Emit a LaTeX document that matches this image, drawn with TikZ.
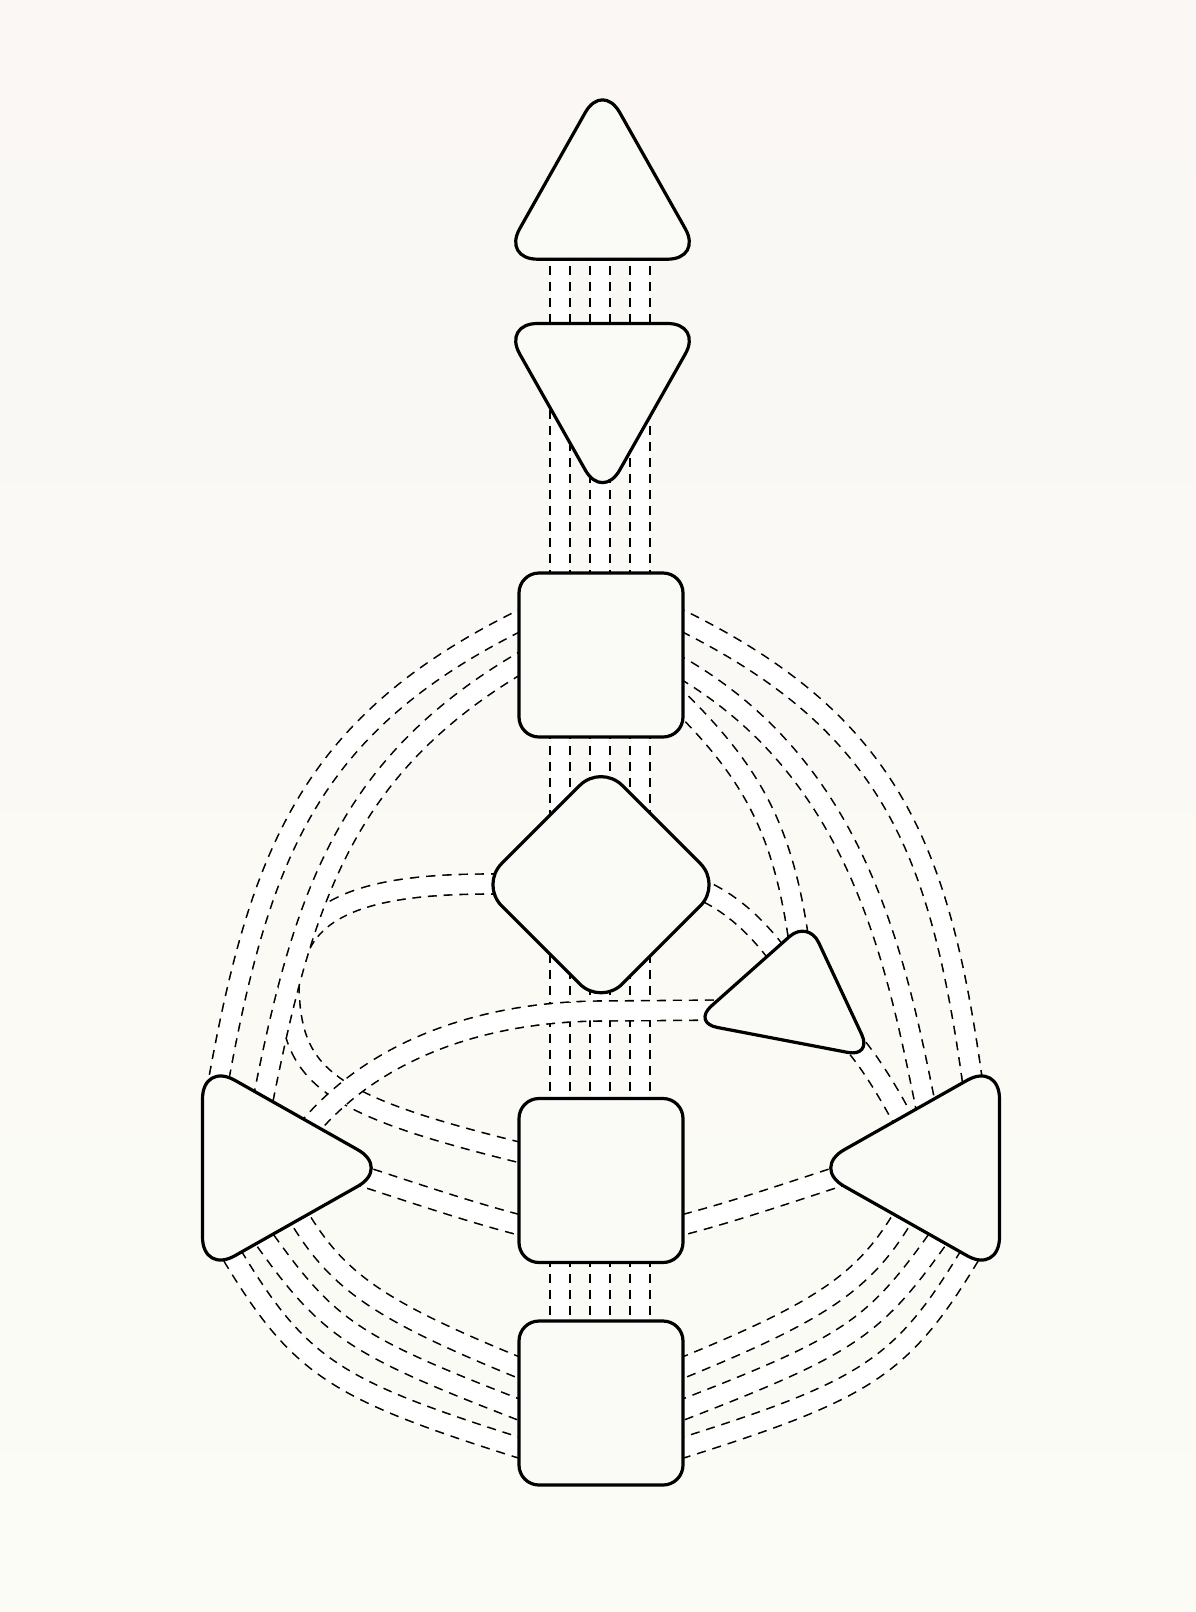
\documentclass[tikz,border=0pt]{standalone}
\definecolor{bgtop}{RGB}{250,247,244}
\definecolor{bgbot}{RGB}{251,252,246}
\definecolor{shapefill}{RGB}{250,251,247}
\begin{document}
\begin{tikzpicture}[x=1pt,y=-1pt,
  chan/.style={draw=black, line width=21.6pt, dash pattern=on 9pt off 7pt,
               postaction={draw=white, solid, line width=18.4pt}},
  centre/.style={draw=black, line width=3.2pt, fill=shapefill, line join=round}]
\useasboundingbox (0,0) rectangle (1196,1612);
\fill[top color=bgtop, bottom color=bgbot] (0,0) rectangle (1196,1612);

% ---- named ports ----
\coordinate (hdA) at (560,250);  \coordinate (rtA) at (560,1330);
\coordinate (hdB) at (600,250);  \coordinate (rtB) at (600,1330);
\coordinate (hdC) at (640,250);  \coordinate (rtC) at (640,1330);

\coordinate (thL1i) at (530.4,615.3); \coordinate (thL1) at (517,622);
\coordinate (spL1) at (219,1078);     \coordinate (spL1i) at (216.3,1092.7);
\coordinate (thL2i) at (529.9,657.3); \coordinate (thL2) at (517,665);
\coordinate (spL2) at (264,1095);     \coordinate (spL2i) at (261,1110);

\coordinate (gLi) at (500,884);  \coordinate (gL) at (491,884);
\coordinate (mgG) at (300.5,944.8);
\coordinate (mgS) at (288.9,984.8);
\coordinate (saL) at (518,1152); \coordinate (saLi) at (532,1155.5);

\coordinate (egLi) at (730,1010); \coordinate (egL) at (600,1011);
\coordinate (spE) at (316,1120);  \coordinate (spEi) at (306,1131);

\coordinate (spAi) at (355,1174); \coordinate (spA) at (365,1177);
\coordinate (saL2) at (520,1225); \coordinate (saL2i) at (532,1228);
\coordinate (spaAi) at (847,1174); \coordinate (spaA) at (837,1177);
\coordinate (saR2) at (682,1225); \coordinate (saR2i) at (670,1228);

\coordinate (spB1i) at (224.2,1242.1); \coordinate (spB1) at (232,1255);
\coordinate (roL1) at (520,1448); \coordinate (roL1i) at (534,1452.4);
\coordinate (spB2i) at (256.3,1227.8); \coordinate (spB2) at (265,1240);
\coordinate (roL2) at (520,1410); \coordinate (roL2i) at (534,1415.4);
\coordinate (spB3i) at (294,1209.3); \coordinate (spB3) at (302,1222);
\coordinate (roL3) at (520,1368); \coordinate (roL3i) at (534,1373.7);

\coordinate (sqB1i) at (977.8,1242.1); \coordinate (sqB1) at (970,1255);
\coordinate (roR1) at (682,1448); \coordinate (roR1i) at (668,1452.4);
\coordinate (sqB2i) at (945.7,1227.8); \coordinate (sqB2) at (937,1240);
\coordinate (roR2) at (682,1410); \coordinate (roR2i) at (668,1415.4);
\coordinate (sqB3i) at (908,1209.3); \coordinate (sqB3) at (900,1222);
\coordinate (roR3) at (682,1368); \coordinate (roR3i) at (668,1373.7);

\coordinate (thR1i) at (672,615.5); \coordinate (thR1) at (685,622);
\coordinate (sqT1) at (972,1078);   \coordinate (sqT1i) at (974,1093);
\coordinate (thR2i) at (672,662.5); \coordinate (thR2) at (685,670);
\coordinate (sqT2) at (925,1103);   \coordinate (sqT2i) at (928,1120);
\coordinate (thR3i) at (670,692);   \coordinate (thR3) at (690,712);
\coordinate (egT) at (798,935);     \coordinate (egTi) at (800,948);

\coordinate (gRi) at (695,886); \coordinate (gR) at (712,895);
\coordinate (egS) at (778,955); \coordinate (egSi) at (784,963);
\coordinate (egBi) at (848,1036); \coordinate (egB) at (855,1045);
\coordinate (sqE) at (902,1118);  \coordinate (sqEi) at (908,1130);

% ---- channels ----
\draw[chan] (hdA) -- (rtA);
\draw[chan] (hdB) -- (rtB);
\draw[chan] (hdC) -- (rtC);

% G -> merges into the inner throat-spleen channel; branch from it to the sacral
\draw[chan] (gLi) -- (gL) .. controls (400,884) and (325,895) .. (mgG);
\draw[chan] (mgS) .. controls (290.7,1074.8) and (324,1104) .. (saL) -- (saLi);

\draw[chan] (thL1i) -- (thL1) .. controls (311.4,724.8) and (260.4,852.6) .. (spL1) -- (spL1i);
\draw[chan] (thL2i) -- (thL2) .. controls (345.6,767.8) and (303.2,899) .. (spL2) -- (spL2i);
\draw[chan] (egLi) -- (egL) .. controls (480,1012) and (380,1050) .. (spE) -- (spEi);
\draw[chan] (spAi) -- (spA) .. controls (420,1195) and (470,1212) .. (saL2) -- (saL2i);
\draw[chan] (spaAi) -- (spaA) .. controls (782,1195) and (732,1212) .. (saR2) -- (saR2i);

\draw[chan] (spB1i) -- (spB1) .. controls (299.6,1366.8) and (334.8,1389.5) .. (roL1) -- (roL1i);
\draw[chan] (spB2i) -- (spB2) .. controls (328.8,1329.1) and (354.5,1345.9) .. (roL2) -- (roL2i);
\draw[chan] (spB3i) -- (spB3) .. controls (340.2,1283.2) and (383.3,1312.1) .. (roL3) -- (roL3i);
\draw[chan] (sqB1i) -- (sqB1) .. controls (902.4,1366.8) and (867.2,1389.5) .. (roR1) -- (roR1i);
\draw[chan] (sqB2i) -- (sqB2) .. controls (873.2,1329.1) and (847.5,1345.9) .. (roR2) -- (roR2i);
\draw[chan] (sqB3i) -- (sqB3) .. controls (861.8,1283.2) and (818.7,1312.1) .. (roR3) -- (roR3i);

\draw[chan] (thR1i) -- (thR1) .. controls (890.6,724.8) and (939.8,850.3) .. (sqT1) -- (sqT1i);
\draw[chan] (thR2i) -- (thR2) .. controls (856.4,772.8) and (895,955) .. (sqT2) -- (sqT2i);
\draw[chan] (thR3i) -- (thR3) .. controls (755.8,779.7) and (783,836) .. (egT) -- (egTi);
\draw[chan] (gRi) -- (gR) .. controls (738,909) and (760,931) .. (egS) -- (egSi);
\draw[chan] (egBi) -- (egB) .. controls (870,1062) and (890,1095) .. (sqE) -- (sqEi);

% ---- centres ----
\draw[centre, rounded corners=35pt] (502.5,259.2) -- (702.5,259.2) -- (602.5,82) -- cycle;
\draw[centre, rounded corners=35pt] (502.5,323.5) -- (702.5,323.5) -- (602.5,500.5) -- cycle;
\draw[centre, rounded corners=20pt] (519,573) rectangle (683,737);
\draw[centre, rounded corners=30pt] (601,764.2) -- (721.5,884.7) -- (601,1005.2) -- (480.5,884.7) -- cycle;
\draw[centre, rounded corners=25pt] (808.1,920) -- (872.3,1057.1) -- (692.6,1022.7) -- cycle;
\draw[centre, rounded corners=37pt] (202.5,1062) -- (390.1,1168) -- (202.5,1274) -- cycle;
\draw[centre, rounded corners=37pt] (999.5,1062) -- (811.9,1168) -- (999.5,1274) -- cycle;
\draw[centre, rounded corners=20pt] (519,1098.5) rectangle (683,1262.5);
\draw[centre, rounded corners=20pt] (519,1321) rectangle (683,1485);
\end{tikzpicture}
\end{document}
